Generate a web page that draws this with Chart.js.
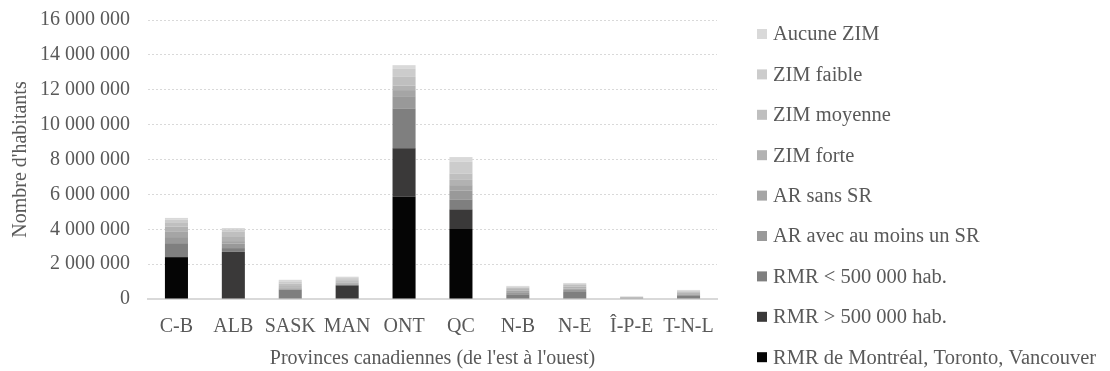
<!DOCTYPE html>
<html lang="fr">
<head>
<meta charset="utf-8">
<title>Population par type de territoire, provinces canadiennes</title>
<script src="https://cdn.jsdelivr.net/npm/chart.js@4/dist/chart.umd.min.js"></script>
<style>
  html, body { margin: 0; padding: 0; background: #ffffff; }
  #wrap { width: 1110px; height: 371px; position: relative; }
</style>
</head>
<body>
<div id="wrap"><canvas id="chart" width="1110" height="371"></canvas></div>
<script>
// Provinces (ordre d'affichage)
const provinces = ['C-B', 'ALB', 'SASK', 'MAN', 'ONT', 'QC', 'N-B', 'N-E', 'Î-P-E', 'T-N-L'];

// Population par type de territoire (habitants), de la base vers le sommet de chaque colonne
const rmrMontrealTorontoVancouver = [2400000, 0, 0, 0, 5870000, 4010000, 0, 0, 0, 0];
const rmrPlus500k   = [0, 2700000, 0, 780000, 2770000, 1130000, 0, 0, 0, 0];
const rmrMoins500k  = [800000, 220000, 540000, 0, 2290000, 570000, 270000, 400000, 0, 210000];
const arAvecSR      = [350000, 250000, 50000, 30000, 700000, 520000, 120000, 120000, 70000, 50000];
const arSansSR      = [300000, 150000, 50000, 50000, 350000, 300000, 80000, 80000, 0, 30000];
const zimForte      = [300000, 280000, 100000, 100000, 260000, 300000, 100000, 120000, 40000, 60000];
const zimMoyenne    = [250000, 250000, 150000, 120000, 500000, 370000, 80000, 100000, 20000, 60000];
const zimFaible     = [150000, 150000, 120000, 120000, 480000, 670000, 60000, 60000, 10000, 60000];
const aucuneZIM     = [100000, 70000, 90000, 80000, 190000, 270000, 40000, 40000, 0, 50000];

// Graduations de l'axe vertical
const yTicks = [0, 2000000, 4000000, 6000000, 8000000, 10000000, 12000000, 14000000, 16000000];

const seriesNames = [
  'RMR de Montréal, Toronto, Vancouver',
  'RMR > 500 000 hab.',
  'RMR < 500 000 hab.',
  'AR avec au moins un SR',
  'AR sans SR',
  'ZIM forte',
  'ZIM moyenne',
  'ZIM faible',
  'Aucune ZIM'
];
const seriesValues = [
  rmrMontrealTorontoVancouver, rmrPlus500k, rmrMoins500k, arAvecSR, arSansSR,
  zimForte, zimMoyenne, zimFaible, aucuneZIM
];
const seriesColors = [
  '#050505', '#3a3939', '#7f7f7f', '#999999', '#a5a5a5',
  '#b2b2b2', '#bfbfbf', '#cccccc', '#d9d9d9'
];

const FONT = "'Liberation Serif', 'Times New Roman', serif";
const TEXT = '#595959';
const SIZE = 20;

function formatNombre(v) {
  return String(Math.round(v)).replace(/\B(?=(\d{3})+(?!\d))/g, ' ');
}

// Légende verticale à droite, du type le moins urbain au plus urbain
const sideLegend = {
  id: 'sideLegend',
  afterDraw(chart) {
    const ctx = chart.ctx;
    const ds = chart.data.datasets;
    ctx.save();
    ctx.font = '20.5px ' + FONT;
    ctx.textBaseline = 'middle';
    ctx.textAlign = 'left';
    for (let k = 0; k < ds.length; k++) {
      const d = ds[ds.length - 1 - k];
      const y = 34 + k * 40.4;
      ctx.fillStyle = d.backgroundColor;
      ctx.fillRect(757, y - 5, 10, 10);
      ctx.fillStyle = TEXT;
      ctx.fillText(d.label, 773, y + 1);
    }
    ctx.restore();
  }
};

const chart = new Chart(document.getElementById('chart'), {
  type: 'bar',
  data: {
    labels: provinces,
    datasets: seriesNames.map((name, i) => ({
      label: name,
      data: seriesValues[i],
      backgroundColor: seriesColors[i],
      borderWidth: 0,
      categoryPercentage: 1,
      barPercentage: 0.405
    }))
  },
  plugins: [sideLegend],
  options: {
    responsive: false,
    animation: false,
    layout: { padding: { top: 20, right: 393, left: 0, bottom: 0 } },
    plugins: {
      legend: { display: false },
      tooltip: { enabled: false }
    },
    scales: {
      x: {
        stacked: true,
        grid: { display: false, drawTicks: false },
        border: { display: true, color: '#d9d9d9', width: 2 },
        ticks: { color: TEXT, font: { family: FONT, size: SIZE }, padding: 16, maxRotation: 0, autoSkip: false },
        title: {
          display: true,
          text: "Provinces canadiennes (de l'est à l'ouest)",
          color: TEXT,
          font: { family: FONT, size: SIZE },
          padding: { top: 6, bottom: 0 }
        },
        afterFit(scale) { scale.height = 72; scale.paddingLeft = 0; scale.paddingRight = 0; }
      },
      y: {
        stacked: true,
        min: 0,
        max: 16000000,
        afterBuildTicks(scale) { scale.ticks = yTicks.map(v => ({ value: v })); },
        grid: { color: '#d9d9d9', lineWidth: 1, drawTicks: false },
        border: { display: false, dash: [2, 2] },
        ticks: {
          color: TEXT,
          font: { family: FONT, size: SIZE },
          padding: 18,
          callback: v => formatNombre(v)
        },
        title: {
          display: true,
          text: "Nombre d'habitants",
          color: TEXT,
          font: { family: FONT, size: SIZE },
          padding: { top: 9, bottom: 4 }
        },
        afterFit(scale) { scale.width = 148; scale.paddingTop = 0; scale.paddingBottom = 0; }
      }
    }
  }
});
</script>
</body>
</html>
